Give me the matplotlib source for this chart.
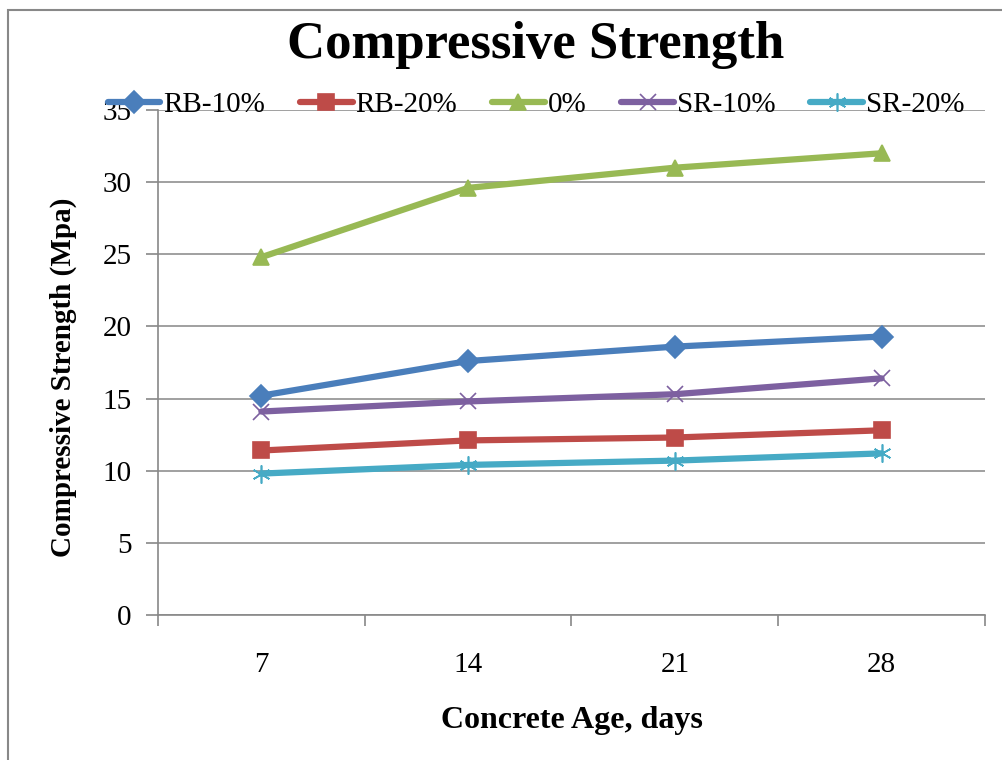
import matplotlib.pyplot as plt
from matplotlib.patches import Rectangle

plt.rcParams["font.family"] = ["Liberation Serif", "DejaVu Serif"]

ages = ["7", "14", "21", "28"]
rb10 = [15.2, 17.6, 18.6, 19.3]
rb20 = [11.4, 12.1, 12.3, 12.8]
plain = [24.8, 29.6, 31.0, 32.0]
sr10 = [14.1, 14.8, 15.3, 16.4]
sr20 = [9.8, 10.4, 10.7, 11.2]

series = [
    ("RB-10%", rb10, "#4A7EBB", "D", 11),
    ("RB-20%", rb20, "#BE4B48", "s", 11),
    ("0%", plain, "#98B954", "^", 12),
    ("SR-10%", sr10, "#7D60A0", "x", 11),
    ("SR-20%", sr20, "#46AAC5", (6, 2, 0), 13),
]

fig = plt.figure(figsize=(10.02, 7.6), dpi=100)
ax = fig.add_axes([0.1577, 0.1908, 0.8253, 0.6645])

x = list(range(len(ages)))
for name, vals, col, mk, ms in series:
    ax.plot(x, vals, color=col, lw=4.5, marker=mk, markersize=ms,
            markeredgecolor=col, markerfacecolor=col, mew=1.2, label=name,
            solid_capstyle="round")

ax.set_xlim(-0.5, 3.5)
ax.set_ylim(0, 35)
ax.set_yticks(range(0, 36, 5))
ax.set_xticks(x)
ax.set_xticklabels(ages)
ax.set_xticks([-0.5, 0.5, 1.5, 2.5, 3.5], minor=True)
ax.tick_params(axis="x", which="major", length=0, labelsize=21, pad=27)
ax.tick_params(axis="x", which="minor", length=8, color="#888888", width=1.2)
ax.tick_params(axis="y", length=9, color="#888888", width=1.2, labelsize=21, pad=10)

ax.grid(axis="y", color="#A0A0A0", lw=1.4)
ax.set_axisbelow(True)
for s in ["top", "right"]:
    ax.spines[s].set_visible(False)
for s in ["left", "bottom"]:
    ax.spines[s].set_color("#888888")
    ax.spines[s].set_linewidth(1.2)

ax.set_xlabel("Concrete Age, days", fontsize=23, fontweight="bold", labelpad=20)
ax.set_ylabel("Compressive Strength (Mpa)", fontsize=21, fontweight="bold")
ax.yaxis.set_label_coords(-0.098, 0.47)
fig.text(0.535, 0.941, "Compressive Strength", ha="center", va="center",
         fontsize=38, fontweight="bold")

fig.legend(loc="center", bbox_to_anchor=(0.535, 0.862), ncol=5, frameon=False,
           fontsize=21, handlelength=1.8, handletextpad=0.1, columnspacing=1.2,
           borderaxespad=0)

fig.patches.append(Rectangle((8 / 1002, -0.05), 1.1, 0.05 + 750 / 760,
                             transform=fig.transFigure, fill=False,
                             edgecolor="#888888", lw=1.5))

fig.savefig("out.png", dpi=100)
